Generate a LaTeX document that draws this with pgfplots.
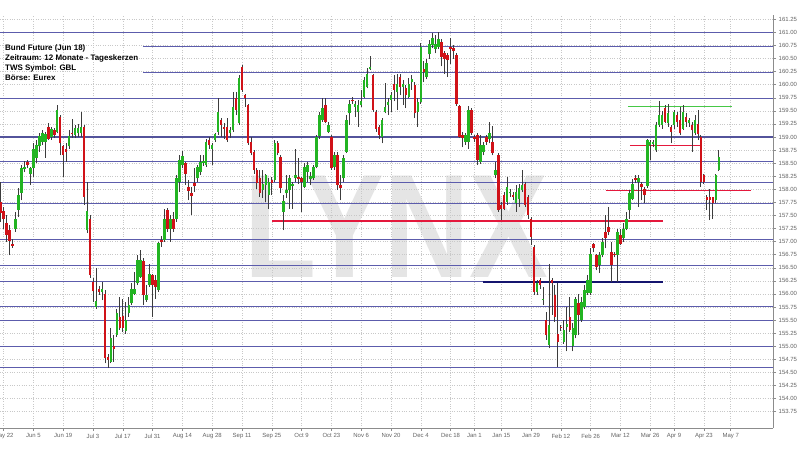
\documentclass[border=0pt]{standalone}
\usepackage{fontspec}
\setmainfont{Liberation Sans}
\usepackage{pgfplots}
\usepackage{pgfplotstable}
\pgfplotsset{compat=1.18}
\definecolor{cUp}{RGB}{34,180,34}
\definecolor{cDn}{RGB}{208,18,24}
\definecolor{cLine}{RGB}{92,92,172}
\definecolor{cNavy}{RGB}{20,20,110}
\definecolor{cRedL}{RGB}{228,24,60}
\definecolor{cGrnL}{RGB}{70,200,70}
\definecolor{cGrid}{RGB}{200,200,200}
\definecolor{cTick}{RGB}{100,100,100}
\definecolor{cWick}{RGB}{60,60,60}
\pgfplotstableread{
s o h l c
-1 157.75 158.14 157.38 157.55
0 157.58 157.67 157.25 157.43
1 157.35 157.51 156.99 157.13
2 157.22 157.32 156.74 157.02
3 156.95 157.05 156.88 156.92
4 157.24 157.57 157.19 157.44
5 157.61 158.02 157.47 157.89
6 157.93 158.46 157.79 158.40
7 158.38 158.54 158.33 158.43
8 158.52 158.56 158.40 158.47
9 158.29 158.43 158.08 158.40
10 158.41 158.88 158.24 158.78
11 158.60 158.95 158.50 158.85
12 158.82 159.07 158.72 159.01
13 158.91 159.13 158.85 159.07
14 158.90 159.10 158.60 159.05
15 159.19 159.26 158.94 158.97
16 159.00 159.20 158.95 159.15
17 159.13 159.18 158.98 159.03
18 159.10 159.61 159.07 159.52
19 159.39 159.42 158.65 158.88
20 158.82 158.85 158.24 158.66
21 158.77 158.88 158.53 158.72
22 158.82 159.13 158.78 159.01
23 159.08 159.35 158.98 159.05
24 159.04 159.23 158.98 159.17
25 159.07 159.25 159.00 159.17
26 159.07 159.48 159.00 159.20
27 159.20 159.23 157.70 157.86
28 157.22 158.14 157.16 157.58
29 157.43 157.51 156.30 156.36
30 156.23 156.30 155.85 156.05
31 155.75 156.49 155.72 155.86
32 156.10 156.15 155.98 156.04
33 156.04 156.23 155.88 156.10
34 156.00 156.07 154.67 154.77
35 154.79 154.85 154.58 154.74
36 154.70 155.34 154.67 155.15
37 155.00 155.21 154.70 154.94
38 155.21 155.72 155.18 155.63
39 155.56 155.94 155.31 155.34
40 155.57 155.91 155.27 155.34
41 155.30 155.85 155.24 155.50
42 155.63 155.95 155.56 155.78
43 155.82 156.20 155.78 156.10
44 156.00 156.42 155.98 156.10
45 156.20 156.74 156.17 156.65
46 156.33 156.84 156.30 156.65
47 156.62 156.68 155.79 155.98
48 155.88 156.17 155.85 155.98
49 156.17 156.58 156.14 156.39
50 156.36 156.39 155.56 156.17
51 156.27 156.36 155.91 156.14
52 156.07 157.00 156.04 156.97
53 157.03 157.10 156.90 156.99
54 157.03 157.63 157.00 157.44
55 157.60 157.65 157.19 157.25
56 157.25 157.51 157.00 157.44
57 157.43 157.57 157.19 157.25
58 157.44 158.27 157.38 158.21
59 158.14 158.65 157.95 158.56
60 158.46 158.73 158.40 158.63
61 158.50 158.53 158.08 158.30
62 158.05 158.18 157.79 157.97
63 157.92 158.05 157.51 157.88
64 158.12 158.40 157.95 158.06
65 158.21 158.46 158.14 158.43
66 158.34 158.65 158.27 158.53
67 158.50 158.65 158.45 158.54
68 158.46 158.97 158.43 158.91
69 158.94 159.00 158.78 158.85
70 158.78 158.88 158.46 158.85
71 158.94 159.07 158.91 159.05
72 159.10 159.74 159.04 159.48
73 159.32 159.36 159.00 159.23
74 159.20 159.26 158.97 159.16
75 159.20 159.36 158.91 158.94
76 159.07 159.19 158.98 159.13
77 159.13 159.87 159.10 159.58
78 159.74 159.87 159.42 159.52
79 159.26 160.18 159.23 160.12
80 160.34 160.38 159.87 159.90
81 159.80 159.83 159.58 159.74
82 159.61 159.64 158.85 158.88
83 158.91 159.00 158.65 158.69
84 158.72 158.75 158.30 158.37
85 158.37 158.40 158.00 158.12
86 158.21 158.37 157.86 157.92
87 157.98 158.37 157.83 158.11
88 158.08 158.30 157.76 158.27
89 157.89 158.21 157.63 158.14
90 158.18 158.24 157.89 158.12
91 158.18 158.94 158.14 158.88
92 158.89 158.92 158.65 158.69
93 158.62 158.65 157.92 158.02
94 157.57 157.89 157.22 157.77
95 157.92 158.27 157.83 157.98
96 157.98 158.27 157.63 158.21
97 158.06 158.14 157.63 158.10
98 158.21 158.78 158.14 158.27
99 158.24 158.59 158.11 158.20
100 158.21 158.24 157.57 158.14
101 158.05 158.50 158.02 158.43
102 158.33 158.53 158.14 158.46
103 158.20 158.33 158.08 158.25
104 158.21 158.46 158.18 158.43
105 158.43 159.04 158.40 159.00
106 159.01 159.48 158.97 159.42
107 159.33 159.74 159.29 159.55
108 159.61 159.74 159.26 159.29
109 159.10 159.29 159.07 159.22
110 159.00 159.04 158.37 158.40
111 158.43 158.72 158.37 158.65
112 158.65 158.72 157.99 158.08
113 158.08 158.27 157.79 158.02
114 158.21 158.65 158.14 158.59
115 158.72 159.42 158.69 159.32
116 159.45 159.71 159.23 159.64
117 159.71 159.77 159.64 159.68
118 159.58 159.68 159.39 159.64
119 159.48 159.71 159.20 159.61
120 159.61 159.90 159.58 159.68
121 159.77 160.15 159.74 160.09
122 159.96 160.31 159.93 160.21
123 160.30 160.55 160.28 160.33
124 160.18 160.21 159.48 159.52
125 159.48 159.52 159.10 159.16
126 159.20 159.23 158.97 159.04
127 159.00 159.36 158.88 159.32
128 159.48 160.03 159.45 159.58
129 159.61 159.74 159.42 159.67
130 159.71 159.86 159.48 159.80
131 160.02 160.18 159.68 159.90
132 159.86 160.21 159.52 160.02
133 160.15 160.21 159.80 159.96
134 159.96 160.09 159.61 160.02
135 159.93 159.99 159.55 159.80
136 159.77 160.12 159.74 160.02
137 160.06 160.18 159.90 160.11
138 159.99 160.06 159.36 159.45
139 159.48 159.74 159.20 159.67
140 159.67 160.79 159.64 160.72
141 160.30 160.45 160.05 160.24
142 160.15 160.50 160.10 160.41
143 160.58 160.85 160.50 160.78
144 160.76 160.98 160.70 160.90
145 160.68 160.95 160.60 160.78
146 160.73 161.00 160.68 160.87
147 160.82 160.88 160.35 160.53
148 160.60 160.65 160.20 160.50
149 160.56 160.60 160.15 160.47
150 160.72 160.90 160.40 160.69
151 160.70 160.75 160.50 160.64
152 160.56 160.60 159.60 159.64
153 159.60 159.62 158.98 159.00
154 159.04 159.10 158.80 158.98
155 158.91 159.07 158.85 159.04
156 158.91 159.60 158.78 159.51
157 159.51 159.55 159.04 159.07
158 159.00 159.04 158.90 158.96
159 159.04 159.07 158.46 158.56
160 158.53 159.04 158.49 158.84
161 158.72 158.90 158.65 158.84
162 159.00 159.04 158.85 158.91
163 158.97 159.29 158.88 159.07
164 158.91 159.22 158.65 158.69
165 158.27 158.53 158.21 158.37
166 158.65 158.69 157.57 157.60
167 157.70 157.76 157.41 157.63
168 157.89 157.95 157.60 157.63
169 157.76 158.24 157.70 158.05
170 157.92 158.00 157.85 157.95
171 157.89 157.95 157.80 157.86
172 157.73 158.08 157.57 157.95
173 157.82 158.11 157.67 158.03
174 157.98 158.37 157.95 158.08
175 158.11 158.14 157.67 157.70
176 157.86 157.89 157.44 157.51
177 157.44 157.47 156.93 157.09
178 156.90 156.93 155.98 156.04
179 156.04 156.26 155.98 156.20
180 156.26 156.30 156.10 156.17
181 155.88 156.14 155.79 155.91
182 155.50 155.66 155.12 155.21
183 155.02 156.58 154.96 155.40
184 156.26 156.30 155.60 156.20
185 155.98 156.17 155.47 155.56
186 155.24 156.20 154.61 155.08
187 155.37 155.40 155.30 155.34
188 155.08 155.50 155.05 155.31
189 155.37 155.75 154.90 155.43
190 155.56 155.94 155.28 155.31
191 155.00 155.45 154.90 155.34
192 155.21 155.95 155.15 155.91
193 155.82 156.00 155.21 155.60
194 155.50 155.94 155.47 155.85
195 155.75 156.17 155.72 156.07
196 156.01 156.36 155.98 156.26
197 156.01 156.87 155.98 156.77
198 156.95 156.98 156.80 156.87
199 156.74 156.77 156.45 156.52
200 156.55 156.80 156.40 156.74
201 156.74 157.06 156.70 157.00
202 157.19 157.51 156.87 157.06
203 157.28 157.67 157.12 157.19
204 156.80 157.00 156.23 156.56
205 156.77 156.80 156.70 156.74
206 156.74 157.25 156.23 157.19
207 157.12 157.25 156.93 156.96
208 157.06 157.35 156.99 157.25
209 157.25 157.57 157.22 157.44
210 157.60 157.98 157.43 157.92
211 157.82 158.20 157.79 158.11
212 158.22 158.27 158.12 158.17
213 158.14 158.27 157.67 158.21
214 158.11 158.14 157.79 158.05
215 158.00 158.05 157.73 157.89
216 158.07 158.97 158.02 158.94
217 158.84 158.94 158.56 158.91
218 158.86 158.95 158.80 158.91
219 158.75 159.29 158.72 159.23
220 159.23 159.68 159.20 159.42
221 159.23 159.50 159.16 159.42
222 159.55 159.61 159.26 159.29
223 159.26 159.64 159.20 159.45
224 159.20 159.23 158.88 159.10
225 159.23 159.51 159.16 159.48
226 159.42 159.48 159.20 159.29
227 159.32 159.58 159.04 159.07
228 159.16 159.61 159.13 159.48
229 159.39 159.45 159.20 159.29
230 159.26 159.36 159.20 159.32
231 159.23 159.29 158.72 159.13
232 159.07 159.42 159.04 159.32
233 159.24 159.51 158.94 159.05
234 159.00 159.04 158.05 158.14
235 158.27 158.30 158.10 158.14
236 157.86 157.89 157.60 157.79
237 157.86 158.00 157.41 157.79
238 157.86 157.86 157.43 157.73
239 157.79 158.30 157.73 158.28
240 158.37 158.75 158.35 158.62
}\candles
\begin{document}
\begin{tikzpicture}
\useasboundingbox (0,0) rectangle (800bp,450bp);
\fill[white] (0,0) rectangle (800bp,450bp);
\node[anchor=base west, inner sep=0, text=black!10, xscale=0.8,
  font=\fontsize{148}{148}\selectfont\bfseries] at (244bp,172bp) {LYNX};
\begin{axis}[
  at={(0bp,22bp)}, anchor=south west, scale only axis,
  width=773bp, height=413bp,
  xmin=-1.21, xmax=258.2, ymin=153.436, ymax=161.333,
  axis x line*=bottom, axis y line*=right,
  axis line style={draw=black!45, line width=0.6bp},
  tick align=outside, major tick length=3bp,
  tick style={draw=black!45, line width=0.5bp},
  xtick={0,10,20,30,40,50,60,70,80,90,100,110,120,130,140,150,158,167,177,187,197,207,217,225,235,244},
  xticklabels={May 22,Jun 5,Jun 19,Jul 3,Jul 17,Jul 31,Aug 14,Aug 28,Sep 11,Sep 25,Oct 9,Oct 23,Nov 6,Nov 20,Dec 4,Dec 18,Jan 1,Jan 15,Jan 29,Feb 12,Feb 26,Mar 12,Mar 26,Apr 9,Apr 23,May 7},
  ytick={153.75,154,154.25,154.5,154.75,155,155.25,155.5,155.75,156,156.25,156.5,156.75,157,157.25,157.5,157.75,158,158.25,158.5,158.75,159,159.25,159.5,159.75,160,160.25,160.5,160.75,161,161.25},
  /pgf/number format/fixed,
  /pgf/number format/fixed zerofill,
  /pgf/number format/precision=2,
  /pgf/number format/1000 sep={},
  /pgf/number format/assume math mode=true,
  yticklabel style={font=\fontsize{6}{7}\selectfont, text=cTick, inner sep=1bp, xshift=1.5bp},
  xticklabel style={font=\fontsize{6}{7}\selectfont, text=cTick, inner sep=1bp, yshift=-1.5bp},
  grid=major, major grid style={draw=cGrid, dotted, line width=0.5bp},
  clip=true,
]
% support / resistance lines
\addplot[cLine, line width=0.8bp, forget plot] coordinates {(-1.21,161.00) (258.2,161.00)};
\addplot[cLine, line width=0.8bp, forget plot] coordinates {(46.78,160.74) (258.2,160.74)};
\addplot[cLine, line width=0.8bp, forget plot] coordinates {(46.78,160.24) (258.2,160.24)};
\addplot[cLine, line width=0.8bp, forget plot] coordinates {(-1.21,159.74) (258.2,159.74)};
\addplot[cLine!90!black, line width=1.1bp, forget plot] coordinates {(-1.21,159.00) (258.2,159.00)};
\addplot[cLine, line width=0.8bp, forget plot] coordinates {(-1.21,158.54) (258.2,158.54)};
\addplot[cLine, line width=0.8bp, forget plot] coordinates {(-1.21,158.13) (258.2,158.13)};
\addplot[cLine, line width=0.8bp, forget plot] coordinates {(-1.21,157.73) (258.2,157.73)};
\addplot[cLine, line width=0.8bp, forget plot] coordinates {(-1.21,157.04) (258.2,157.04)};
\addplot[cLine, line width=0.8bp, forget plot] coordinates {(-1.21,156.55) (258.2,156.55)};
\addplot[cLine, line width=0.8bp, forget plot] coordinates {(-1.21,156.23) (160.87,156.23)};
\addplot[cLine, line width=0.8bp, forget plot] coordinates {(-1.21,155.76) (258.2,155.76)};
\addplot[cLine, line width=0.8bp, forget plot] coordinates {(-1.21,155.49) (258.2,155.49)};
\addplot[cLine, line width=0.8bp, forget plot] coordinates {(-1.21,154.99) (258.2,154.99)};
\addplot[cLine, line width=0.8bp, forget plot] coordinates {(-1.21,154.60) (258.2,154.60)};
\addplot[cNavy, line width=1.4bp, forget plot] coordinates {(160.87,156.23) (221.3,156.23)};
\addplot[cRedL, line width=2bp, forget plot] coordinates {(90.07,157.40) (221.3,157.40)};
\addplot[cRedL, line width=1bp, forget plot] coordinates {(202.15,157.98) (250.8,157.98)};
\addplot[cRedL, line width=1bp, forget plot] coordinates {(210.2,158.84) (233.7,158.84)};
\addplot[cGrnL, line width=1bp, forget plot] coordinates {(209.5,159.59) (244.4,159.59)};
% wicks
\addplot[draw=none, forget plot, error bars/.cd, y dir=plus, y explicit, error mark=none,
  error bar style={draw=cWick, line width=0.8bp}]
  table[x=s, y=l, y error plus expr=\thisrow{h}-\thisrow{l}] {\candles};
% up bodies
\addplot[draw=none, forget plot, error bars/.cd, y dir=plus, y explicit, error mark=none,
  error bar style={draw=cUp, line width=2.5bp}]
  table[x=s, y=o, y error plus expr={max(\thisrow{c}-\thisrow{o},0)}] {\candles};
% down bodies
\addplot[draw=none, forget plot, error bars/.cd, y dir=plus, y explicit, error mark=none,
  error bar style={draw=cDn, line width=2.5bp}]
  table[x=s, y=c, y error plus expr={max(\thisrow{o}-\thisrow{c},0)}] {\candles};
\end{axis}
\node[anchor=base west, inner sep=0, font=\fontsize{8}{10}\selectfont\bfseries] at (5bp,399bp) {Bund Future (Jun 18)};
\node[anchor=base west, inner sep=0, font=\fontsize{8}{10}\selectfont\bfseries] at (5bp,389bp) {Zeitraum: 12 Monate - Tageskerzen};
\node[anchor=base west, inner sep=0, font=\fontsize{8}{10}\selectfont\bfseries] at (5bp,379bp) {TWS Symbol: GBL};
\node[anchor=base west, inner sep=0, font=\fontsize{8}{10}\selectfont\bfseries] at (5bp,369bp) {Börse: Eurex};
\end{tikzpicture}
\end{document}
